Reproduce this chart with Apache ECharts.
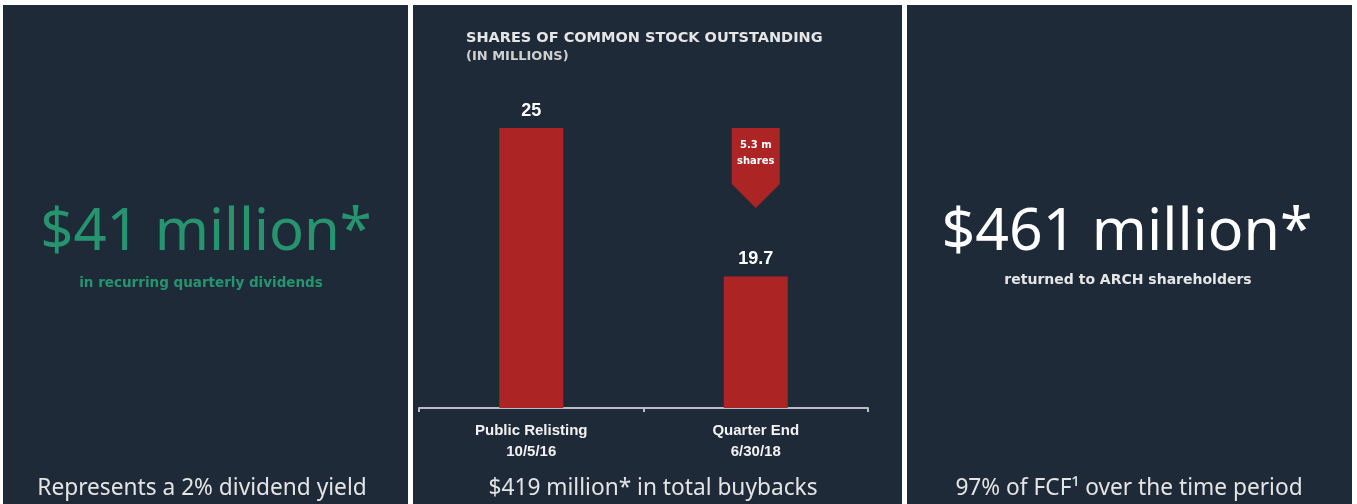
<!DOCTYPE html>
<html>
<head>
<meta charset="utf-8">
<script src="https://cdn.jsdelivr.net/npm/echarts@6/dist/echarts.min.js"></script>
<style>
  html, body { margin: 0; padding: 0; background: #ffffff; }
  #chart { width: 1357px; height: 504px; }
</style>
</head>
<body>
<div id="chart"></div>
<script>
// shares outstanding (millions)
const categories = ["Public Relisting\n10/5/16", "Quarter End\n6/30/18"];
const sharesOutstanding = [25, 19.7];
const reductionLabel = "5.3 m\nshares";

const panelColor = "#1f2a39";
const barColor = "#ad2424";
const green = "#26956f";

const myChart = echarts.init(document.getElementById("chart"));

function panel(x, w) {
  return {
    type: "rect",
    shape: { x: x, y: 5, width: w, height: 499 },
    style: { fill: panelColor },
    z: -10,
  };
}

function txt(x, y, text, font, color, align) {
  return {
    type: "text",
    x: x,
    y: y,
    style: {
      text: text,
      font: font,
      fill: color,
      align: align || "center",
      verticalAlign: "middle",
    },
  };
}

const option = {
  backgroundColor: "#ffffff",
  animation: false,
  graphic: [
    panel(3, 405),
    panel(413, 489),
    panel(907, 445),
    // left panel
    txt(206, 233, "$41 million*", '58px "Noto Sans"', green),
    txt(201, 283, "in recurring quarterly dividends", 'bold 13.5px "DejaVu Sans"', green),
    txt(202, 489, "Represents a 2% dividend yield", '22.7px "Noto Sans"', "#e4e4e4"),
    // middle panel
    txt(466, 38, "SHARES OF COMMON STOCK OUTSTANDING", 'bold 14.5px "DejaVu Sans"', "#e6e6e6", "left"),
    txt(466, 57, "(IN MILLIONS)", '600 13px "DejaVu Sans"', "#cfcfcf", "left"),
    txt(653, 489, "$419 million* in total buybacks", '22.7px "Noto Sans"', "#e4e4e4"),
    // right panel
    txt(1127, 233, "$461 million*", '59px "Noto Sans"', "#ffffff"),
    txt(1128, 280, "returned to ARCH shareholders", 'bold 14px "DejaVu Sans"', "#e6e6e6"),
    txt(1129, 489, "97% of FCF\u00b9 over the time period", '22.7px "Noto Sans"', "#e4e4e4"),
  ],
  grid: {
    left: 419,
    right: 489,
    top: 128,
    bottom: 96,
  },
  xAxis: {
    type: "category",
    data: categories,
    axisLine: { show: true, lineStyle: { color: "#b9bdc4", width: 2 } },
    axisTick: { show: true, length: 4, lineStyle: { color: "#b9bdc4", width: 2 } },
    axisLabel: {
      color: "#f2f2f2",
      fontFamily: "Liberation Sans",
      fontWeight: "bold",
      fontSize: 15,
      lineHeight: 21,
      margin: 12,
      interval: 0,
    },
  },
  yAxis: {
    type: "value",
    min: 15,
    max: 25,
    show: false,
    splitLine: { show: false },
  },
  series: [
    {
      type: "bar",
      data: sharesOutstanding,
      barWidth: 64,
      itemStyle: { color: barColor },
      label: {
        show: true,
        position: "top",
        distance: 8,
        color: "#ffffff",
        fontFamily: "Liberation Sans",
        fontWeight: "bold",
        fontSize: 18,
      },
      markPoint: {
        symbol: "path://M0,0 L48,0 L48,56 L24,80 L0,56 Z",
        symbolSize: [48, 80],
        symbolOffset: [0, "50%"],
        itemStyle: { color: barColor },
        label: {
          show: true,
          position: "inside",
          offset: [0, -15],
          formatter: reductionLabel,
          color: "#ffffff",
          fontFamily: "DejaVu Sans",
          fontWeight: "bold",
          fontSize: 10,
          lineHeight: 16,
        },
        data: [{ coord: [1, sharesOutstanding[0]] }],
      },
    },
  ],
};

myChart.setOption(option);
window.addEventListener("resize", () => {
  myChart.resize();
});
</script>
</body>
</html>
